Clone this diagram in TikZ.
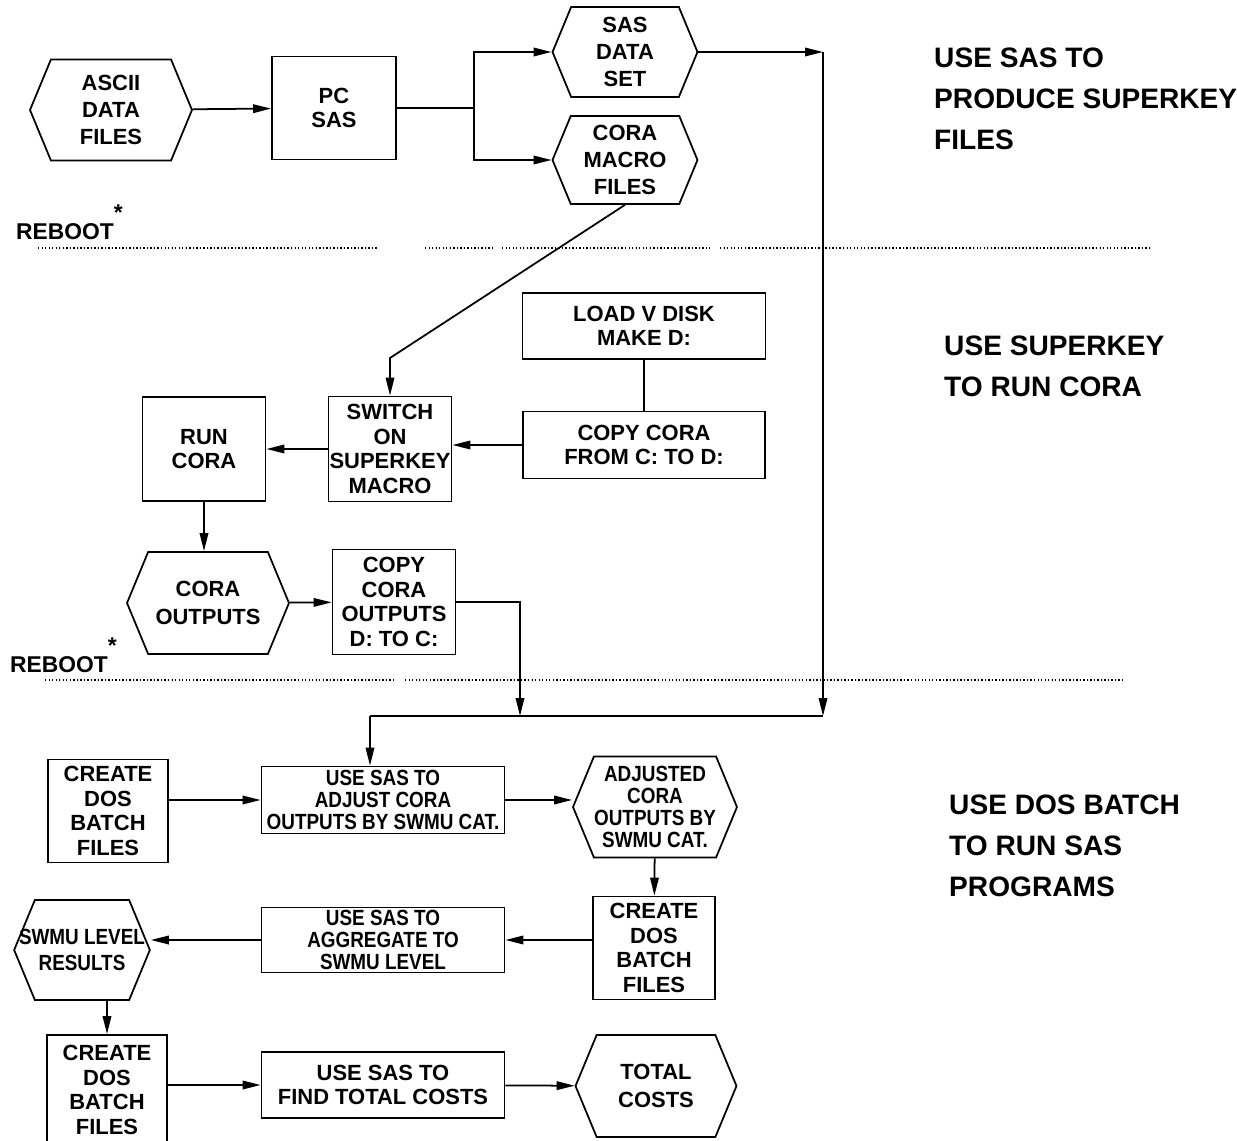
\documentclass[tikz,border=0pt]{standalone}
\usepackage{fontspec}
\setmainfont{Liberation Sans}
\newfontfamily\narrowfam{Liberation Sans}[FakeStretch=0.86]
\usepackage{tikz}
\usetikzlibrary{arrows.meta,positioning,calc,shapes.symbols}
\newcommand{\boxfnt}{\fontsize{12.5}{14}\selectfont\bfseries}
\newcommand{\hexfnt}{\fontsize{12.5}{15.5}\selectfont\bfseries}
\newcommand{\narrowfnt}{\narrowfam\fontsize{12.5}{12.6}\selectfont\bfseries}
\newcommand{\headfnt}{\fontsize{16}{23.5}\selectfont\bfseries}
\newcommand{\rbstar}{\raisebox{1.6ex}{*}}

\begin{document}
\begin{tikzpicture}[x=0.02cm, y=-0.02cm, >={Triangle[length=3.6mm,width=1.7mm]},
  box/.style={draw, line width=1pt, align=center, font=\boxfnt, inner sep=0pt},
  widebox/.style={box, font=\narrowfnt},
  hexa/.style={box, font=\hexfnt, signal, signal to=east and west, signal pointer angle=135},
  arr/.style={->, line width=1pt},
  wire/.style={line width=1pt},
  sep/.style={line width=0.6pt, dash pattern=on 0.8pt off 1.2pt},
  heading/.style={anchor=west, align=left, font=\headfnt},
  reboot/.style={anchor=west, font=\fontsize{13}{14}\selectfont\bfseries}]
  \useasboundingbox (0,0) rectangle (1237,1141);

  % use SAS to produce superkey files
  \node[hexa, minimum width=3.24cm, minimum height=2.02cm] (ascii) at (111,110) {ASCII\\DATA\\FILES};
  \node[box, minimum width=2.48cm, minimum height=2.06cm] (pcsas) at (334,108) {PC\\SAS};
  \node[hexa, minimum width=2.9cm, minimum height=1.8cm] (sasdata) at (625,52) {SAS\\DATA\\SET};
  \node[hexa, minimum width=2.9cm, minimum height=1.76cm] (macro) at (625,160) {CORA\\MACRO\\FILES};
  \node[reboot] (reboot1) at (10,222) {REBOOT\rbstar};

  % use superkey to run cora
  \node[box, minimum width=4.86cm, minimum height=1.32cm] (load) at (644,326) {LOAD V DISK\\MAKE D:};
  \node[box, minimum width=4.84cm, minimum height=1.34cm] (copyd) at (644,445) {COPY CORA\\FROM C: TO D:};
  \node[box, minimum width=2.46cm, minimum height=2.1cm] (switch) at (390,449) {SWITCH\\ON\\SUPERKEY\\MACRO};
  \node[box, minimum width=2.46cm, minimum height=2.08cm] (runcora) at (204,449) {RUN\\CORA};
  \node[hexa, minimum width=3.24cm, minimum height=2.04cm] (outputs) at (208,603) {CORA\\OUTPUTS};
  \node[box, minimum width=2.46cm, minimum height=2.1cm] (copyc) at (394,602) {COPY\\CORA\\OUTPUTS\\D: TO C:};
  \node[reboot] (reboot2) at (4,655) {REBOOT\rbstar};

  % use DOS batch to run SAS programs
  \node[box, minimum width=2.4cm, minimum height=2.06cm] (create1) at (108,811) {CREATE\\DOS\\BATCH\\FILES};
  \node[widebox, minimum width=4.86cm, minimum height=1.34cm] (usesas) at (383,800) {USE SAS TO\\ADJUST CORA\\OUTPUTS BY SWMU CAT.};
  \node[hexa, font=\narrowfnt, inner xsep=-2pt, minimum width=3.28cm, minimum height=2.02cm] (adjusted) at (655,807) {ADJUSTED\\CORA\\OUTPUTS BY\\SWMU CAT.};
  \node[box, minimum width=2.44cm, minimum height=2.06cm] (create2) at (654,948) {CREATE\\DOS\\BATCH\\FILES};
  \node[widebox, minimum width=4.86cm, minimum height=1.3cm] (aggr) at (383,940) {USE SAS TO\\AGGREGATE TO\\SWMU LEVEL};
  \node[hexa, font=\narrowfnt\linespread{1.2}\selectfont, inner xsep=-9pt, minimum width=2.7cm, minimum height=2cm] (swmu) at (82,950) {SWMU LEVEL\\RESULTS};
  \node[box, minimum width=2.4cm, minimum height=2.2cm] (create3) at (107,1090) {CREATE\\DOS\\BATCH\\FILES};
  \node[box, minimum width=4.86cm, minimum height=1.32cm] (findtot) at (383,1085) {USE SAS TO\\FIND TOTAL COSTS};
  \node[hexa, minimum width=3.22cm, minimum height=2.04cm] (total) at (656,1086) {TOTAL\\COSTS};

  % phase labels
  \node[heading] (head1) at (928,99) {USE SAS TO\\PRODUCE SUPERKEY\\FILES};
  \node[heading] (head2) at (938,366) {USE SUPERKEY\\TO RUN CORA};
  \node[heading] (head3) at (943,846) {USE DOS BATCH\\TO RUN SAS\\PROGRAMS};

  % separators
  \draw[sep] (38,248) -- (377,248);
  \draw[sep] (425,248) -- (495,248);
  \draw[sep] (502,248) -- (710,248);
  \draw[sep] (720,248) -- (1150,248);
  \draw[sep] (45,680) -- (395,680);
  \draw[sep] (405,680) -- (1125,680);

  % connectors
  \coordinate (split) at (474,108);
  \coordinate (rtop) at (823,52);
  \coordinate (rbot) at (823,716);
  \coordinate (bend) at (390,358);
  \coordinate (joinM) at (520,716);
  \coordinate (joinL) at (370,716);
  \draw[arr] (ascii) -- (pcsas);
  \draw[wire] (pcsas.east) -- (split);
  \draw[arr] (split) |- (sasdata.west);
  \draw[arr] (split) |- (macro.west);
  \draw[arr] (sasdata.east) -- (rtop);
  \draw[arr] (rtop) -- (rbot);
  \draw[wire] (rbot) -- (joinL);
  \draw[arr] (joinL) -- (joinL |- usesas.north);
  \draw[arr] (macro.south) -- (bend) -- (switch.north);
  \draw[wire] (load) -- (copyd);
  \draw[arr] (copyd.west) -- (copyd.west -| switch.east);
  \draw[arr] (switch) -- (runcora);
  \draw[arr] (runcora.south) -- (runcora.south |- outputs.north);
  \draw[arr] (outputs) -- (copyc);
  \draw[arr] (copyc.east) -| (joinM);
  \draw[arr] (create1.east |- usesas) -- (usesas.west);
  \draw[arr] (usesas.east) -- (usesas.east -| adjusted.west);
  \draw[arr] (adjusted) -- (create2);
  \draw[arr] (create2.west |- aggr) -- (aggr.east);
  \draw[arr] (aggr.west) -- (aggr.west -| swmu.east);
  \draw[arr] (create3.north |- swmu.south) -- (create3.north);
  \draw[arr] (create3.east |- findtot) -- (findtot.west);
  \draw[arr] (findtot) -- (total);
\end{tikzpicture}
\end{document}
